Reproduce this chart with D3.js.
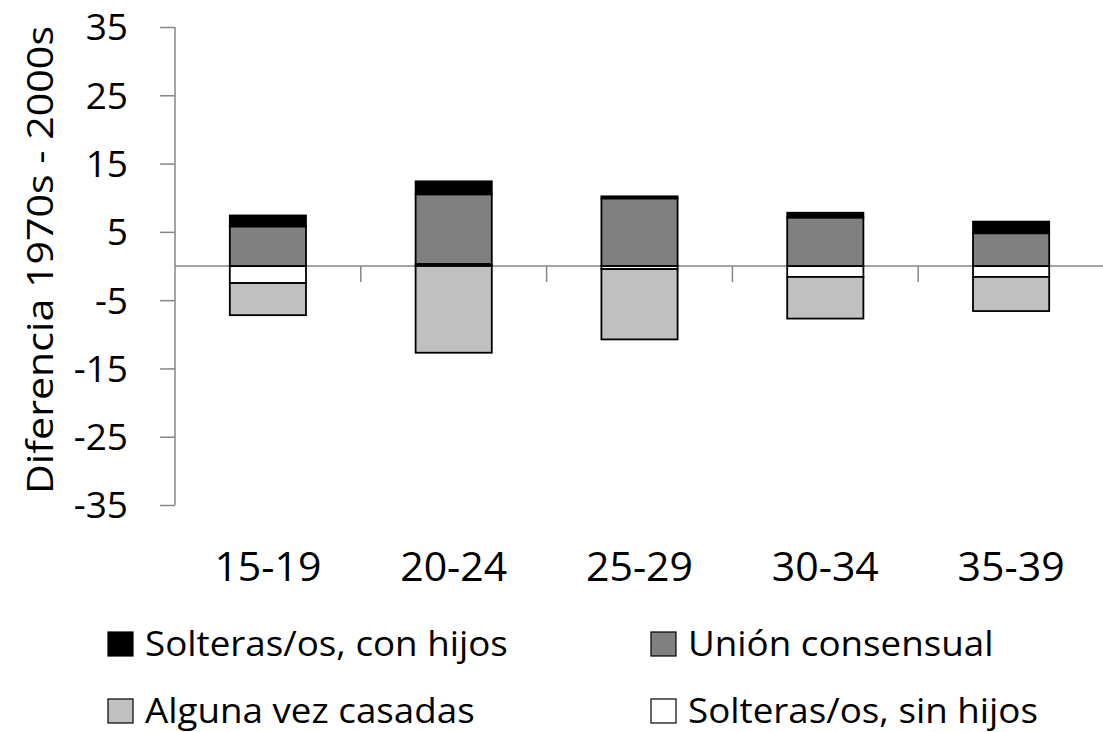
<!DOCTYPE html>
<html>
<head>
<meta charset="utf-8">
<script src="https://cdn.jsdelivr.net/npm/d3@7"></script>
<style>
  html, body { margin: 0; padding: 0; background: #fff; }
  svg { display: block; }
  text { font-family: "Open Sans", "DejaVu Sans", sans-serif; fill: #000; }
</style>
</head>
<body>
<svg id="chart" width="1103" height="732"></svg>
<script>
// ---- data ----
const categories = ["15-19", "20-24", "25-29", "30-34", "35-39"];
const seriesNames = ["Solteras/os, sin hijos", "Alguna vez casadas", "Unión consensual", "Solteras/os, con hijos"];
const solterasSinHijos = [-2.5, 0.3, -0.45, -1.6, -1.6];
const algunaVezCasadas = [-4.7, -12.7, -10.3, -6.1, -5.0];
const unionConsensual = [5.8, 10.2, 9.9, 7.1, 4.8];
const solterasConHijos = [1.6, 1.9, 0.3, 0.7, 1.7];
const yTicks = [35, 25, 15, 5, -5, -15, -25, -35];
const yTitle = "Diferencia  1970s - 2000s";
const legendOrder = ["Solteras/os, con hijos", "Unión consensual", "Alguna vez casadas", "Solteras/os, sin hijos"];
const colors = {
  "Solteras/os, con hijos": "#000000",
  "Unión consensual": "#808080",
  "Alguna vez casadas": "#c0c0c0",
  "Solteras/os, sin hijos": "#ffffff"
};

// ---- build table ----
const seriesValues = [solterasSinHijos, algunaVezCasadas, unionConsensual, solterasConHijos];
const table = categories.map((c, i) => {
  const row = { cat: c };
  seriesNames.forEach((s, j) => row[s] = seriesValues[j][i]);
  return row;
});

const svg = d3.select("#chart");
const axisColor = "#868686";

const x = d3.scaleBand().domain(categories).range([175, 1104]).paddingInner(0.59).paddingOuter(0.295);
const y = d3.scaleLinear().domain([-35, 35]).range([505, 27]);

// y axis
const yAxis = svg.append("g").attr("transform", "translate(175,0)")
  .call(d3.axisLeft(y).tickValues(yTicks).tickFormat(d => String(d)).tickSize(15).tickSizeOuter(0).tickPadding(32));
yAxis.select(".domain").attr("stroke", axisColor).attr("stroke-width", 1.5)
  .attr("d", `M0,${y(35)}V${y(-35)}`);
yAxis.selectAll(".tick line").attr("stroke", axisColor).attr("stroke-width", 1.5);
yAxis.selectAll(".tick text").attr("font-size", 37).attr("font-family", "Open Sans").attr("fill", "#000")
  .attr("dy", "0.35em");

// zero axis with category ticks
const step = x.step();
const xAxisG = svg.append("g").attr("transform", `translate(0,${y(0)})`);
xAxisG.append("line").attr("x1", 175).attr("x2", 1103).attr("y1", 0).attr("y2", 0)
  .attr("stroke", axisColor).attr("stroke-width", 1.5);
const boundaries = d3.range(1, categories.length).map(i => x(categories[i]) - step * x.paddingInner() / 2);
xAxisG.selectAll("line.tk").data(boundaries).join("line").attr("class", "tk")
  .attr("x1", d => d).attr("x2", d => d).attr("y1", 0).attr("y2", 16)
  .attr("stroke", axisColor).attr("stroke-width", 1.5);

// stacked bars
const stack = d3.stack().keys(seriesNames).offset(d3.stackOffsetDiverging);
const stacked = stack(table);
svg.append("g").selectAll("g").data(stacked).join("g")
  .attr("fill", d => colors[d.key])
  .selectAll("rect").data(d => d).join("rect")
  .attr("x", d => x(d.data.cat))
  .attr("width", x.bandwidth())
  .attr("y", d => y(Math.max(d[0], d[1])))
  .attr("height", d => Math.abs(y(d[0]) - y(d[1])))
  .attr("stroke", "#000").attr("stroke-width", 1.8);

// category labels
svg.append("g").selectAll("text").data(categories).join("text")
  .attr("x", d => x(d) + x.bandwidth() / 2)
  .attr("y", 567).attr("dy", "0.35em")
  .attr("text-anchor", "middle").attr("font-size", 41)
  .text(d => d);

// y title
svg.append("text")
  .attr("transform", `translate(40,${(25 + 495) / 2}) rotate(-90)`)
  .attr("text-anchor", "middle").attr("dy", "0.35em")
  .attr("font-size", 36)
  .attr("textLength", 468).attr("lengthAdjust", "spacingAndGlyphs")
  .text(yTitle);

// legend
const legPos = [[108, 644], [651, 644], [108, 711], [651, 711]];
const legG = svg.append("g").selectAll("g").data(legendOrder).join("g")
  .attr("transform", (d, i) => `translate(${legPos[i][0]},${legPos[i][1]})`);
legG.append("rect").attr("x", 0).attr("y", -12).attr("width", 25).attr("height", 24)
  .attr("fill", d => colors[d]).attr("stroke", "#000").attr("stroke-width", 1.2);
legG.append("text").attr("x", 37).attr("y", 0).attr("dy", "0.35em")
  .attr("font-size", 35)
  .each(function (d) {
    const t = d3.select(this).text(d);
    const w = this.getComputedTextLength();
    t.attr("textLength", w * 1.05).attr("lengthAdjust", "spacingAndGlyphs");
  });
</script>
</body>
</html>
